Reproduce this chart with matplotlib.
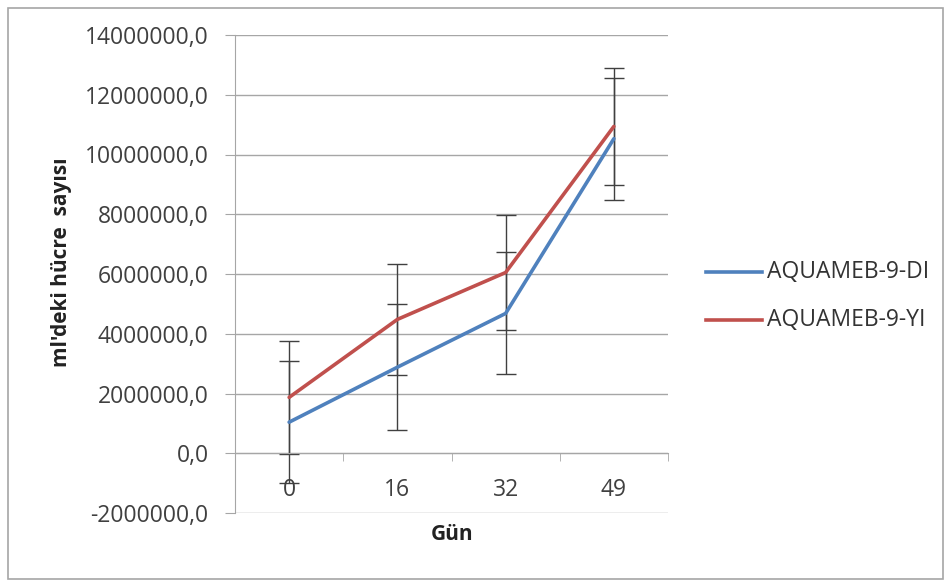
import matplotlib
matplotlib.use("Agg")
import matplotlib.pyplot as plt
from matplotlib.patches import Rectangle
from matplotlib.lines import Line2D
import numpy as np

categories = ["0", "16", "32", "49"]
series_names = ["AQUAMEB-9-DI", "AQUAMEB-9-YI"]
di_values = [1040000, 2880000, 4680000, 10530000]
yi_values = [1870000, 4480000, 6050000, 10940000]
di_errors = [2050000, 2100000, 2040000, 2040000]
yi_errors = [1880000, 1870000, 1940000, 1960000]
y_ticks = [-2000000, 0, 2000000, 4000000, 6000000, 8000000, 10000000, 12000000, 14000000]

plt.rcParams['font.family'] = ['Open Sans', 'DejaVu Sans']

W, H = 951, 583
FS = 16.5
fig = plt.figure(figsize=(W / 100, H / 100), dpi=100)
fig.patches.append(Rectangle((8 / W, 1 - 579 / H), 935 / W, 571 / H, transform=fig.transFigure,
                             fill=False, edgecolor='#a6a6a6', linewidth=1.2))

ax = fig.add_axes([235 / W, 1 - 513 / H, 433 / W, 478 / H])
x = np.arange(len(categories))

colors = ['#4F81BD', '#C0504D']
for vals, errs, c, name in [(di_values, di_errors, colors[0], series_names[0]),
                            (yi_values, yi_errors, colors[1], series_names[1])]:
    ax.errorbar(x, vals, yerr=errs, fmt='none', ecolor='#404040', elinewidth=1.0,
                capsize=7, capthick=1.0, zorder=2)
    ax.plot(x, vals, color=c, linewidth=2.6, label=name, zorder=3, solid_capstyle='round')

ax.set_xlim(-0.5, 3.5)
ax.set_ylim(-2000000, 14000000)
ax.set_yticks(y_ticks)
ax.set_yticklabels([f"{v:.1f}".replace('.', ',') for v in y_ticks])
ax.grid(axis='y', color='#a6a6a6', linewidth=1.0)
ax.set_axisbelow(True)

for s in ['top', 'right']:
    ax.spines[s].set_visible(False)
ax.spines['left'].set_color('#a6a6a6')
ax.spines['bottom'].set_color('#a6a6a6')
ax.spines['bottom'].set_position(('data', 0))

ax.set_xticks(x)
ax.set_xticklabels(categories)
ax.set_xticks([0.5, 1.5, 2.5, 3.5], minor=True)
ax.tick_params(axis='x', which='major', length=0, pad=18, labelsize=FS, labelcolor='#404040')
ax.tick_params(axis='x', which='minor', length=6, color='#a6a6a6', direction='out')
ax.tick_params(axis='y', length=7, color='#a6a6a6', labelsize=FS, labelcolor='#404040', pad=12)

fig.text(62 / W, 1 - 262 / H, "ml'deki hücre  sayısı", rotation=90, ha='center', va='center',
         fontsize=15, fontweight='bold', color='#222222')
fig.text(452 / W, 1 - 535 / H, "Gün", ha='center', va='center',
         fontsize=15, fontweight='bold', color='#222222')

# legend drawn in figure coordinates
leg_rows = [272, 320]
for name, c, yrow in zip(series_names, colors, leg_rows):
    fig.lines.append(Line2D([706 / W, 762 / W], [1 - yrow / H, 1 - yrow / H],
                            transform=fig.transFigure, color=c, linewidth=2.6))
    fig.text(767 / W, 1 - yrow / H, name, ha='left', va='center', fontsize=FS, color='#333333')

fig.savefig("out.png", dpi=100)
